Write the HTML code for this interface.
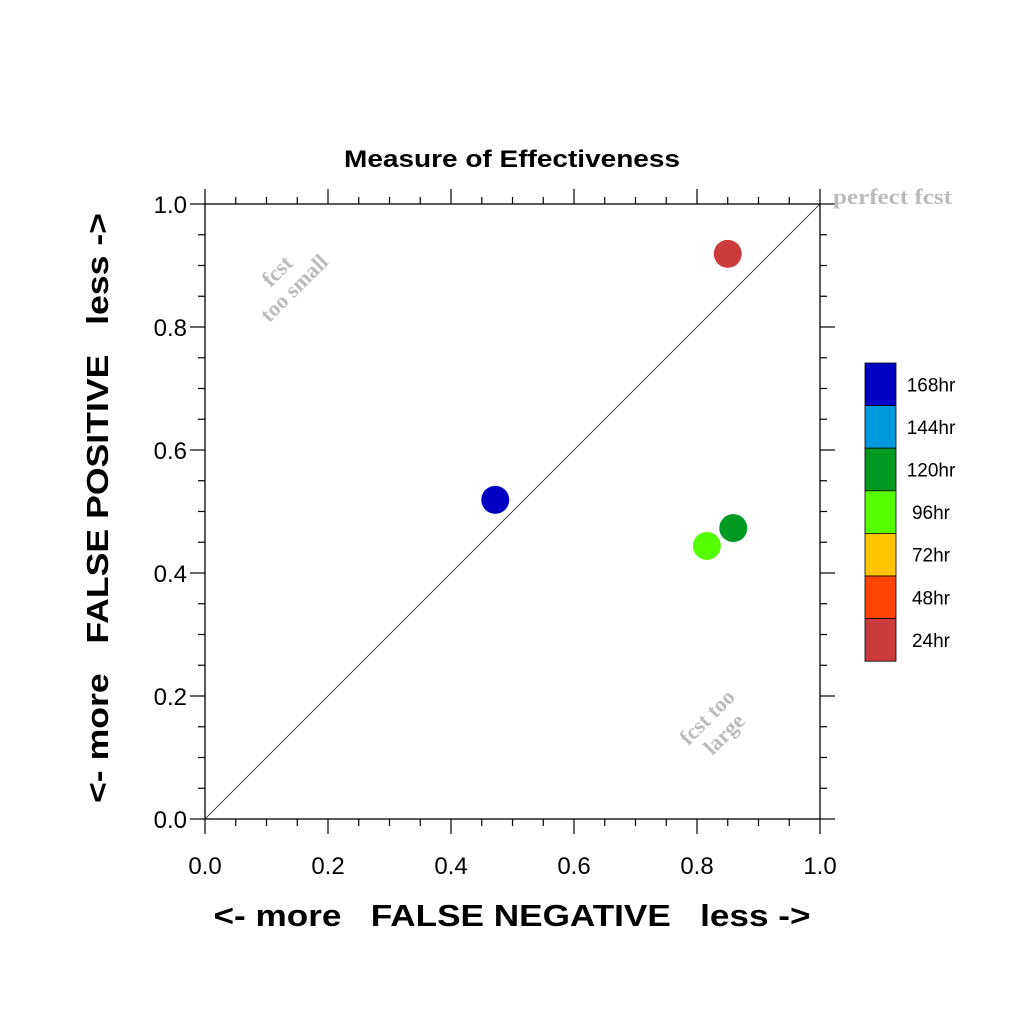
<!DOCTYPE html>
<html><head><meta charset="utf-8"><style>body{margin:0;background:#fff}</style></head>
<body>
<svg id="chart" width="1024" height="1024" xmlns="http://www.w3.org/2000/svg" font-family="Liberation Sans, sans-serif">
<rect width="1024" height="1024" fill="#fff"/>
<text x="512" y="167" text-anchor="middle" font-size="24" font-weight="bold" textLength="336" lengthAdjust="spacingAndGlyphs">Measure of Effectiveness</text>
<g id="axes"></g>
<g id="points"></g>
<g id="legend"></g>
<text x="833" y="204" font-family="Liberation Serif, serif" font-weight="bold" font-size="22" fill="#bbb" textLength="119" lengthAdjust="spacingAndGlyphs">perfect fcst</text>
<g transform="translate(290,284) rotate(-45)" font-family="Liberation Serif, serif" font-weight="bold" font-size="22" fill="#bbb" text-anchor="middle"><text y="-11">fcst</text><text y="13">too small</text></g>
<g transform="translate(720,730) rotate(-45)" font-family="Liberation Serif, serif" font-weight="bold" font-size="22" fill="#bbb" text-anchor="middle"><text y="-11">fcst too</text><text y="13">large</text></g>
<text x="512" y="926" text-anchor="middle" font-size="31" font-weight="bold" xml:space="preserve" textLength="597" lengthAdjust="spacingAndGlyphs">&lt;- more   FALSE NEGATIVE   less -&gt;</text>
<text transform="translate(108,508) rotate(-90)" text-anchor="middle" font-size="31" font-weight="bold" xml:space="preserve" textLength="590" lengthAdjust="spacingAndGlyphs">&lt;- more   FALSE POSITIVE   less -&gt;</text>
<script>
const xVals=[0.850,0.472,0.816,0.859];
const yVals=[0.919,0.519,0.444,0.473];
const ptColors=["#cc3b3b","#0000c4","#55ff00","#009922"];
const tickLabels=["0.0","0.2","0.4","0.6","0.8","1.0"];
const legendLabels=["168hr","144hr","120hr","96hr","72hr","48hr","24hr"];
const legendColors=["#0000c4","#0099dd","#009922","#55ff00","#ffc400","#ff4400","#cc3b3b"];
const NS="http://www.w3.org/2000/svg";
const X0=205,X1=820,Y0=819,Y1=204;
const sx=v=>X0+v*(X1-X0), sy=v=>Y0-v*(Y0-Y1);
function mk(t,a,p){const e=document.createElementNS(NS,t);for(const k in a)e.setAttribute(k,a[k]);p.appendChild(e);return e;}
const ax=document.getElementById('axes');
const fr=mk('rect',{x:X0,y:Y1,width:X1-X0,height:Y0-Y1,fill:'none',stroke:'#000','stroke-width':1.3},ax);


const dg=mk('line',{x1:sx(0),y1:sy(0),x2:sx(1),y2:sy(1),stroke:'#000','stroke-width':0.7},ax);


for(let i=0;i<=20;i++){const v=i/20,maj=i%4==0,L=maj?15:7;
 mk('line',{x1:sx(v),x2:sx(v),y1:Y1,y2:Y1-L,stroke:'#000','stroke-width':1.2},ax);
 mk('line',{x1:sx(v),x2:sx(v),y1:Y0,y2:Y0+L,stroke:'#000','stroke-width':1.2},ax);
 mk('line',{y1:sy(v),y2:sy(v),x1:X0,x2:X0-L,stroke:'#000','stroke-width':1.2},ax);
 mk('line',{y1:sy(v),y2:sy(v),x1:X1,x2:X1+L,stroke:'#000','stroke-width':1.2},ax);}
tickLabels.forEach((t,i)=>{const v=i/5;
 const a=mk('text',{x:sx(v),y:Y0+55,'text-anchor':'middle','font-size':24},ax);a.textContent=t;
 
 
 const b=mk('text',{x:X0-18,y:sy(v)+9,'text-anchor':'end','font-size':24},ax);b.textContent=t;
 
 });
const pg=document.getElementById('points');
xVals.forEach((x,i)=>{const c=mk('circle',{cx:sx(x),cy:sy(yVals[i]),r:14,fill:ptColors[i]},pg);
 
 });
const lg=document.getElementById('legend');
const bh=42.6;
legendLabels.forEach((l,i)=>{const y=363+i*bh;
 const r=mk('rect',{x:865,y:y,width:31,height:bh,fill:legendColors[i],stroke:'#000','stroke-width':0.8},lg);
 
 
 const t=mk('text',{x:931,y:y+bh/2+7,'text-anchor':'middle','font-size':19},lg);t.textContent=l;
 
 });
</script>
</svg>
</body></html>
